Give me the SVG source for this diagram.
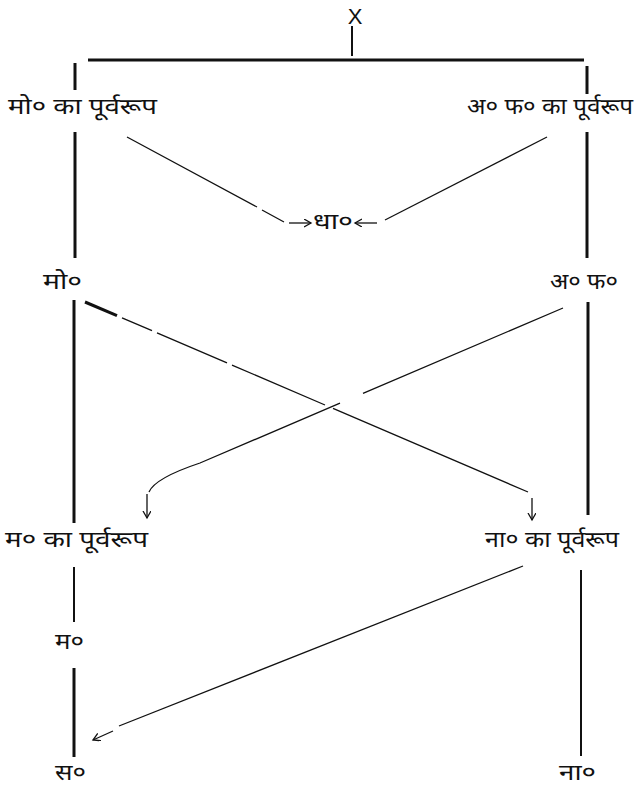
<svg xmlns="http://www.w3.org/2000/svg" width="643" height="788" viewBox="0 0 643 788">
<defs>
<style>
.t{font-family:"Noto Sans Devanagari","Lohit Devanagari","Noto Sans","FreeSans",sans-serif;font-size:22px;fill:#111}
.x{font-family:"Liberation Sans",Arial,sans-serif;font-size:22px;fill:#111}
.thick{stroke:#111;stroke-width:3;fill:none}
.mid{stroke:#111;stroke-width:2;fill:none}
.thin{stroke:#111;stroke-width:1.3;fill:none}
.arr{stroke:#111;stroke-width:1.3;fill:none;marker-end:url(#ah)}
</style>
<marker id="ah" markerUnits="userSpaceOnUse" markerWidth="10" markerHeight="10" refX="7" refY="4" orient="auto">
<path d="M0,0 L7,4 L0,8" stroke="#111" stroke-width="1.3" fill="none"/>
</marker>
</defs>
<rect width="643" height="788" fill="#fff"/>
<g id="connectors">
<line class="mid" x1="352" y1="26" x2="352" y2="56"/>
<line class="thick" x1="88" y1="60" x2="584" y2="60"/>
<line class="thick" x1="75" y1="63" x2="75" y2="90"/>
<line class="thick" x1="587" y1="66" x2="587" y2="94"/>
<line class="thick" x1="75" y1="132" x2="75" y2="258"/>
<line class="thick" x1="587" y1="132" x2="587" y2="258"/>
<line class="thick" x1="74" y1="300" x2="74" y2="523"/>
<line class="thick" x1="588" y1="302" x2="588" y2="515"/>
<line class="mid" x1="74" y1="567" x2="74" y2="622"/>
<line class="thick" x1="74" y1="668" x2="74" y2="757"/>
<line class="mid" x1="581" y1="570" x2="581" y2="756"/>
<path class="thin" d="M127,137 L257,207 M262,210 L284,222"/>
<line class="arr" x1="289" y1="223" x2="311" y2="223"/>
<line class="arr" x1="377" y1="223" x2="355" y2="223"/>
<line class="thin" x1="385" y1="220" x2="547" y2="137"/>
<path class="thick" d="M85,302 L117,315.7"/>
<path class="thin" d="M122,317.9 L152,330.7 M157,332.9 L227,362.9 M232,365.1 L325,405 M333,408.4 L528,492"/>
<line class="arr" x1="532" y1="498" x2="532" y2="520"/>
<path class="thin" d="M563,308 L363,393.4 M340,403.2 L200,463 Q155,478 149,492"/>
<line class="arr" x1="147" y1="494" x2="147" y2="518"/>
<line class="thin" x1="523" y1="566" x2="119" y2="726"/>
<line class="arr" x1="113" y1="731" x2="93" y2="740"/>
</g>
<g id="n-x"><text class="x" x="355" y="24" text-anchor="middle">X</text></g>
<g id="n-mo-purva"><text class="t" x="8" y="114" textLength="149" lengthAdjust="spacingAndGlyphs">मो० का पूर्वरूप</text></g>
<g id="n-af-purva"><text class="t" x="467" y="114" textLength="166" lengthAdjust="spacingAndGlyphs">अ० फ० का पूर्वरूप</text></g>
<g id="n-dha"><text class="t" x="313" y="229" textLength="40" lengthAdjust="spacingAndGlyphs">धा०</text></g>
<g id="n-mo"><text class="t" x="43" y="289" textLength="39" lengthAdjust="spacingAndGlyphs">मो०</text></g>
<g id="n-af"><text class="t" x="550" y="289" textLength="68" lengthAdjust="spacingAndGlyphs">अ० फ०</text></g>
<g id="n-m-purva"><text class="t" x="5" y="547" textLength="143" lengthAdjust="spacingAndGlyphs">म० का पूर्वरूप</text></g>
<g id="n-na-purva"><text class="t" x="485" y="547" textLength="134" lengthAdjust="spacingAndGlyphs">ना० का पूर्वरूप</text></g>
<g id="n-m"><text class="t" x="55" y="649" textLength="29" lengthAdjust="spacingAndGlyphs">म०</text></g>
<g id="n-s"><text class="t" x="55" y="780" textLength="31" lengthAdjust="spacingAndGlyphs">स०</text></g>
<g id="n-na"><text class="t" x="559" y="780" textLength="37" lengthAdjust="spacingAndGlyphs">ना०</text></g>
</svg>
